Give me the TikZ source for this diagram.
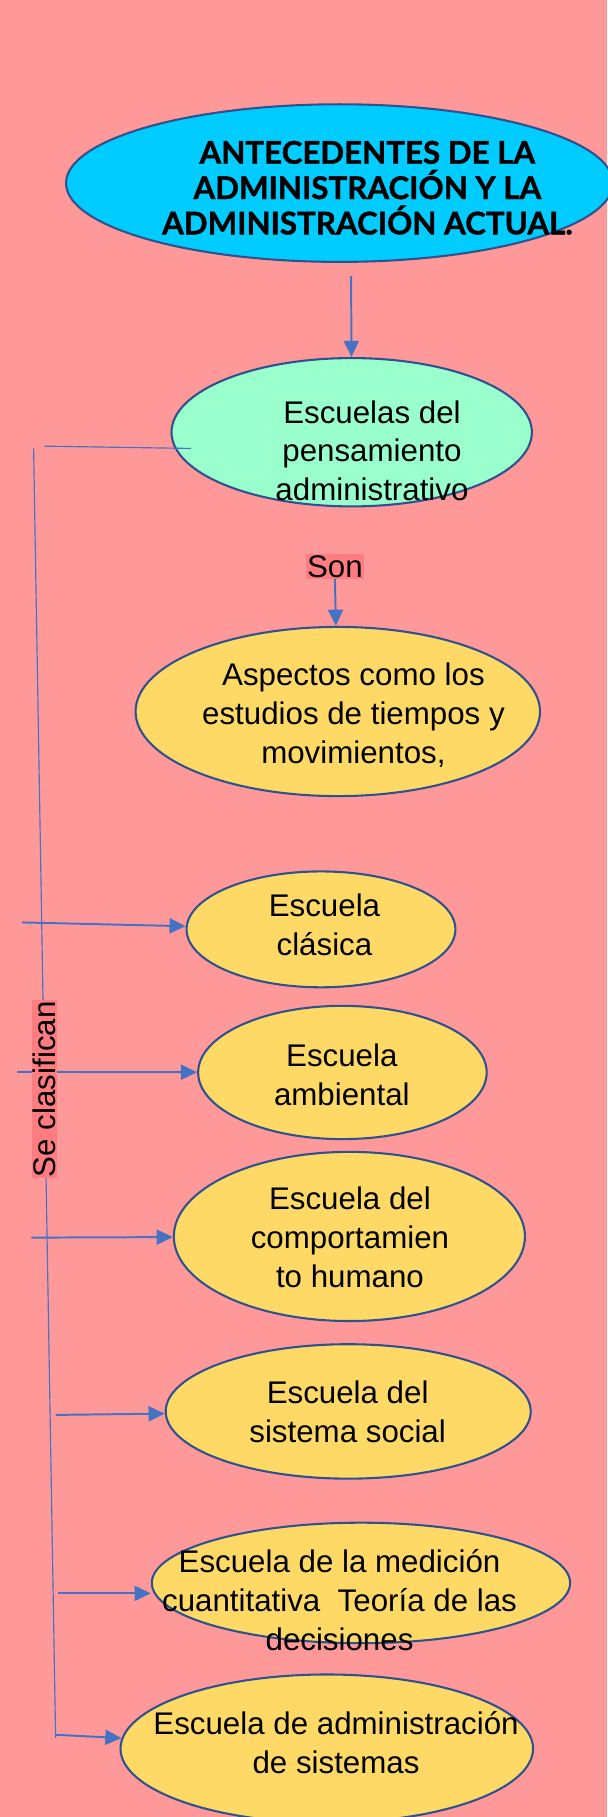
\documentclass[tikz,border=0pt]{standalone}
\usepackage{fontspec}
\setmainfont{Liberation Sans}
\newfontfamily\titlefont[BoldFeatures={FakeBold=1.2}]{Lato}
\usetikzlibrary{shapes.geometric,arrows.meta}
\definecolor{fondo}{RGB}{255,153,153}
\definecolor{rotulo}{RGB}{255,124,128}
\definecolor{borde}{RGB}{47,82,143}
\definecolor{linea}{RGB}{68,114,196}
\definecolor{celeste}{RGB}{0,204,255}
\definecolor{menta}{RGB}{153,255,204}
\definecolor{amarillo}{RGB}{255,217,102}
\begin{document}
\begin{tikzpicture}[x=1pt,y=-1pt,
		elipse/.style={ellipse, draw=borde, line width=1.8pt, inner sep=0pt},
		texto/.style={align=center, font=\fontsize{27}{33.5}\selectfont},
		flecha/.style={draw=linea, line width=1.7pt, -{Triangle[length=14pt,width=13pt]}},
		rama/.style={draw=linea, line width=1pt},
		etiqueta/.style={fill=rotulo, inner xsep=1pt, inner ysep=1pt, font=\fontsize{27}{33.5}\selectfont}]
		\fill [fondo] (0,0) rectangle (524,1568);
		\useasboundingbox (0,0) rectangle (524,1568);
		
		% title and main branch
		\node [elipse, fill=celeste, minimum width=472pt, minimum height=136pt] (antec) at (293,158) {};
		\node [align=center, font=\titlefont\bfseries\fontsize{27}{30.5}\selectfont] (antecT) at (317,162) {ANTECEDENTES DE LA\\ADMINISTRACIÓN Y LA\\ADMINISTRACIÓN ACTUAL.};
		\node [elipse, fill=menta, minimum width=311pt, minimum height=128pt] (pens) at (303.5,373) {};
		\node [texto] (pensT) at (321,389) {Escuelas del\\pensamiento\\administrativo};
		\coordinate (inicio) at (303,238);
		\draw [flecha] (inicio) -- (pens);
		
		\node [etiqueta] (son) at (289,489) {Son};
		\node [elipse, fill=amarillo, minimum width=349pt, minimum height=146pt] (aspec) at (291.5,614) {};
		\node [texto] (aspecT) at (305,617) {Aspectos como los\\estudios de tiempos y\\movimientos,};
		\draw [flecha] (son.south) -- (aspec);
		
		% the schools
		\node [elipse, fill=amarillo, minimum width=232pt, minimum height=100pt] (clasica) at (277,802) {};
		\node [texto] (clasicaT) at (280,798) {Escuela\\clásica};
		\node [elipse, fill=amarillo, minimum width=249pt, minimum height=115pt] (ambiental) at (295.5,925.5) {};
		\node [texto] (ambientalT) at (295,927.5) {Escuela\\ambiental};
		\node [elipse, fill=amarillo, minimum width=303pt, minimum height=146pt] (comport) at (301.5,1067) {};
		\node [texto] (comportT) at (302,1068) {Escuela del\\comportamien\\to humano};
		\node [elipse, fill=amarillo, minimum width=315pt, minimum height=116pt] (social) at (300.5,1218) {};
		\node [texto] (socialT) at (300,1218) {Escuela del\\sistema social};
		\node [elipse, fill=amarillo, minimum width=361pt, minimum height=104pt] (medicion) at (311.5,1366) {};
		\node [texto] (medicionT) at (293,1381) {Escuela de la medición\\cuantitativa~~Teoría de las\\decisiones};
		\node [elipse, fill=amarillo, minimum width=356pt, minimum height=128pt] (sistemas) at (282,1509) {};
		\node [texto] (sistemasT) at (290,1504) {Escuela de administración\\de sistemas};
		
		% bracket on the left
		\coordinate (arriba) at (29,387);
		\coordinate (abajo) at (48,1500);
		\coordinate (rama) at (38,385);
		\coordinate (ramaFin) at (165,387);
		\draw [rama] (arriba) -- (abajo);
		\draw [rama] (rama) -- (ramaFin);
		\coordinate (a1) at (19,796);
		\coordinate (a2) at (15,925);
		\coordinate (a3) at (27,1068);
		\coordinate (a4) at (48,1221);
		\coordinate (a5) at (50,1375);
		\coordinate (a6) at (48,1497);
		\draw [flecha] (a1) -- (clasica);
		\draw [flecha] (a2) -- (ambiental);
		\draw [flecha] (a3) -- (comport);
		\draw [flecha] (a4) -- (social);
		\draw [flecha] (a5) -- (a5 -| medicion.west);
		\draw [flecha] (a6) -- (sistemas);
		\node [etiqueta, rotate=90] (clasif) at (38.5,940) {Se clasifican};
	\end{tikzpicture}
\end{document}
